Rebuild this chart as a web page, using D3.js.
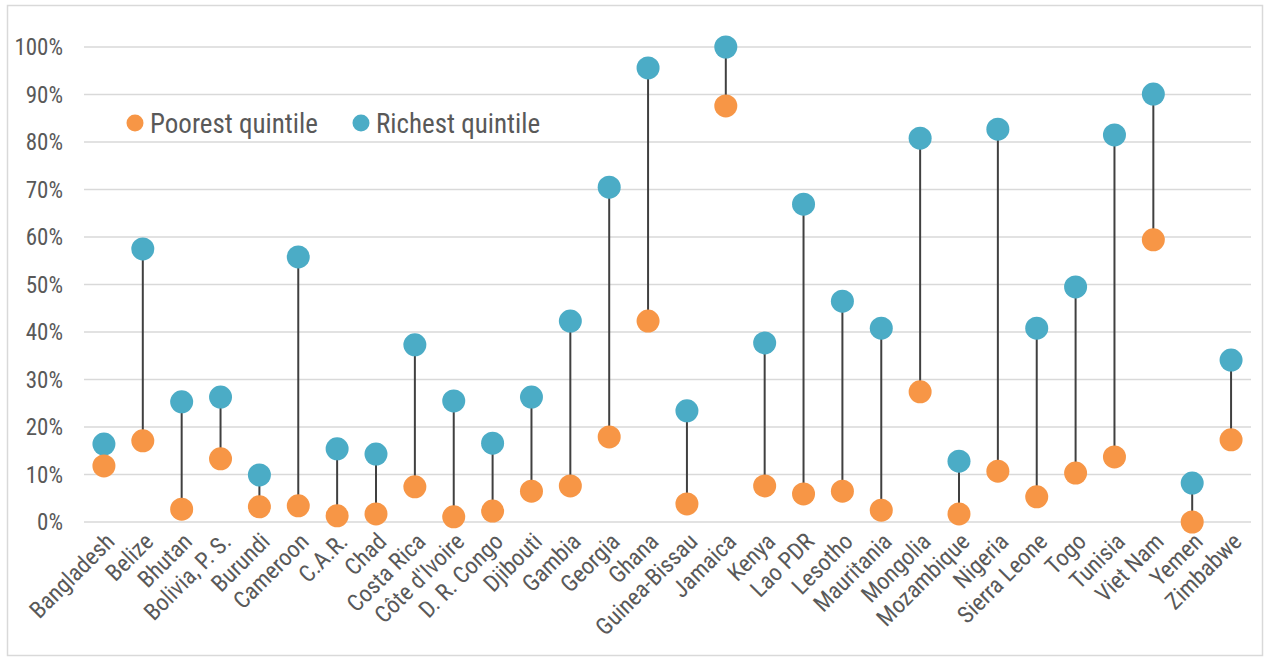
<!DOCTYPE html>
<meta charset="utf-8">
<style>
body { margin: 0; background: #fff; }
text { font-family: "Roboto Condensed", Roboto, sans-serif; fill: #595959; }
</style>
<body>
<script src="https://d3js.org/d3.v7.min.js"></script>
<script>
var countries = ["Bangladesh", "Belize", "Bhutan", "Bolivia, P. S.", "Burundi", "Cameroon", "C.A.R.", "Chad",
  "Costa Rica", "Côte d'Ivoire", "D. R. Congo", "Djibouti", "Gambia", "Georgia", "Ghana", "Guinea-Bissau",
  "Jamaica", "Kenya", "Lao PDR", "Lesotho", "Mauritania", "Mongolia", "Mozambique", "Nigeria",
  "Sierra Leone", "Togo", "Tunisia", "Viet Nam", "Yemen", "Zimbabwe"];
var poorest = [11.8, 17.1, 2.7, 13.3, 3.2, 3.4, 1.3, 1.7, 7.4, 1.1, 2.3, 6.5, 7.6, 17.9, 42.3, 3.8,
  87.6, 7.6, 5.9, 6.5, 2.5, 27.4, 1.7, 10.7, 5.3, 10.3, 13.7, 59.4, 0.0, 17.3];
var richest = [16.4, 57.5, 25.3, 26.3, 9.9, 55.8, 15.4, 14.3, 37.3, 25.5, 16.6, 26.3, 42.3, 70.5, 95.6, 23.4,
  100, 37.7, 66.9, 46.5, 40.8, 80.8, 12.8, 82.7, 40.8, 49.5, 81.5, 90.1, 8.2, 34.1];
var yTicks = [0, 10, 20, 30, 40, 50, 60, 70, 80, 90, 100];
var seriesNames = ["Poorest quintile", "Richest quintile"];
var colors = ["#F79646", "#4BACC6"];

var width = 1266, height = 660;
var svg = d3.select("body").append("svg").attr("width", width).attr("height", height);

svg.append("rect").attr("x", 7.5).attr("y", 5.5).attr("width", 1255).attr("height", 650)
  .attr("fill", "#fff").attr("stroke", "#d9d9d9").attr("stroke-width", 1.5);

var x = d3.scaleBand().domain(countries).range([84.5, 1250.5]);
var y = d3.scaleLinear().domain([0, 100]).range([522, 47]);

// gridlines + y labels
svg.append("g").selectAll("line").data(yTicks).join("line")
  .attr("x1", 84).attr("x2", 1251)
  .attr("y1", d => y(d)).attr("y2", d => y(d))
  .attr("stroke", "#d9d9d9").attr("stroke-width", 1.5);
svg.append("g").selectAll("text").data(yTicks).join("text")
  .attr("x", 63).attr("y", d => y(d) + 8)
  .attr("text-anchor", "end").style("font-size", "23px")
  .text(d => d + "%");

var cx = d => x(d) + x.bandwidth() / 2;

// connectors
svg.append("g").selectAll("line").data(countries).join("line")
  .attr("x1", cx).attr("x2", cx)
  .attr("y1", (d, i) => y(poorest[i])).attr("y2", (d, i) => y(richest[i]))
  .attr("stroke", "#404040").attr("stroke-width", 2);

// dots
svg.append("g").selectAll("circle").data(countries).join("circle")
  .attr("cx", cx).attr("cy", (d, i) => y(richest[i])).attr("r", 11.5).attr("fill", colors[1]);
svg.append("g").selectAll("circle").data(countries).join("circle")
  .attr("cx", cx).attr("cy", (d, i) => y(poorest[i])).attr("r", 11.5).attr("fill", colors[0]);

// x labels
svg.append("g").selectAll("text").data(countries).join("text")
  .attr("transform", d => "translate(" + (cx(d) + 12) + ",543) rotate(-45)")
  .attr("text-anchor", "end").style("font-size", "23.5px")
  .text(d => d);

// legend
var legendX = [135, 361];
var lg = svg.append("g").selectAll("g").data(seriesNames).join("g")
  .attr("transform", (d, i) => "translate(" + legendX[i] + ",123)");
lg.append("circle").attr("r", 8.5).attr("fill", (d, i) => colors[i]);
lg.append("text").attr("x", 15).attr("y", 10).style("font-size", "27px").text(d => d);
</script>
</body>
